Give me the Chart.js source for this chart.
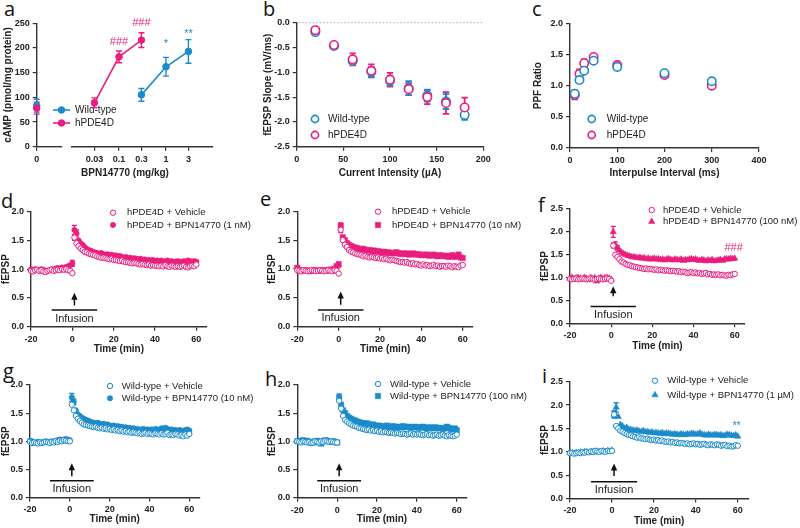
<!DOCTYPE html>
<html>
<head>
<meta charset="utf-8">
<title>BPN14770 - cAMP y fEPSP</title>
<script src="https://cdn.jsdelivr.net/npm/chart.js@4.4.1/dist/chart.umd.min.js"></script>
<style>
  body { margin: 0; width: 800px; height: 528px; background: #fff; position: relative; overflow: hidden; }
  canvas { position: absolute; }
  .lt { position: absolute; font: 20px/20px 'Open Sans', sans-serif; color: #111; }
</style>
</head>
<body>
<div class="lt" style="left:4px;top:-1px">a</div>
<div class="lt" style="left:263px;top:-1px">b</div>
<div class="lt" style="left:532px;top:-1px">c</div>
<div class="lt" style="left:1px;top:191px">d</div>
<div class="lt" style="left:260px;top:189px">e</div>
<div class="lt" style="left:538px;top:195px">f</div>
<div class="lt" style="left:3px;top:361px">g</div>
<div class="lt" style="left:265px;top:369px">h</div>
<div class="lt" style="left:542px;top:366px">i</div>
<script>
// js/figura_bpn.js

const BLUE = '#1b8bcb';
const PINK = '#e91e7e';
const INK = '#222';
const AXIS = '#333';

// --- 1. Datos ---

// a: cAMP vs dosis
const doseZero = [0];
const wtZeroCamp = [83];
const wtZeroSem = [13];
const hpZeroCamp = [78];
const hpZeroSem = [12];
const wtDoses = [0.3, 1, 3];
const wtCamp = [105, 162, 193];
const wtCampSem = [13, 19, 24];
const hpDoses = [0.03, 0.1, 0.3];
const hpCamp = [89, 182, 216];
const hpCampSem = [10, 12, 15];
const doseTicks = [0.03, 0.1, 0.3, 1, 3];
const campTicks = [0, 50, 100, 150, 200, 250];

// b: curva input/output
const currents = [20, 40, 60, 80, 100, 120, 140, 160, 180];
const wtSlope = [-0.19, -0.47, -0.77, -0.99, -1.17, -1.32, -1.47, -1.59, -1.86];
const wtSlopeSem = [0.03, 0.04, 0.05, 0.1, 0.1, 0.14, 0.12, 0.15, 0.1];
const hpSlope = [-0.15, -0.45, -0.74, -0.97, -1.15, -1.34, -1.5, -1.62, -1.71];
const hpSlopeSem = [0.03, 0.04, 0.12, 0.13, 0.14, 0.12, 0.14, 0.22, 0.2];
const currentTicks = [0, 50, 100, 150, 200];
const slopeTicks = [-2.5, -2, -1.5, -1, -0.5, 0];

// c: PPF
const intervals = [10, 20, 30, 50, 100, 200, 300];
const wtPpf = [0.87, 1.09, 1.24, 1.40, 1.30, 1.20, 1.07];
const wtPpfSem = [0.05, 0.03, 0.04, 0.03, 0.04, 0.03, 0.02];
const hpPpf = [0.85, 1.19, 1.36, 1.46, 1.33, 1.17, 1.00];
const hpPpfSem = [0.07, 0.07, 0.06, 0.05, 0.03, 0.03, 0.02];
const intervalTicks = [0, 100, 200, 300, 400];
const ppfTicks = [0, 0.5, 1, 1.5, 2];

// d-i: series de tiempo (min)
const minutes = [-20, -19, -18, -17, -16, -15, -14, -13, -12, -11, -10, -9, -8, -7, -6, -5, -4, -3, -2, -1, 0,
  1, 2, 3, 4, 5, 6, 7, 8, 9, 10, 11, 12, 13, 14, 15, 16, 17, 18, 19, 20,
  21, 22, 23, 24, 25, 26, 27, 28, 29, 30, 31, 32, 33, 34, 35, 36, 37, 38, 39, 40,
  41, 42, 43, 44, 45, 46, 47, 48, 49, 50, 51, 52, 53, 54, 55, 56, 57, 58, 59, 60];
const timeTicks = [-20, 0, 20, 40, 60];
const fepspTicks2 = [0, 0.5, 1, 1.5, 2];
const fepspTicks25 = [0, 0.5, 1, 1.5, 2, 2.5];

const dVehicle = [0.97, 0.96, 0.98, 0.99, 0.97, 0.98, 0.96, 0.95, 0.97, 0.98, 0.99, 0.97, 0.98, 0.99, 0.98, 1.00, 0.99, 1.00, 0.98, 0.97, 0.93,
  1.55, 1.45, 1.40, 1.36, 1.33, 1.30, 1.29, 1.27, 1.26, 1.25,
  1.24, 1.22, 1.21, 1.20, 1.20, 1.19, 1.18, 1.17, 1.18, 1.16,
  1.16, 1.15, 1.14, 1.15, 1.13, 1.12, 1.12, 1.11, 1.10, 1.11,
  1.10, 1.09, 1.08, 1.09, 1.08, 1.07, 1.08, 1.06, 1.07, 1.06,
  1.06, 1.05, 1.06, 1.05, 1.07, 1.05, 1.04, 1.06, 1.05, 1.04,
  1.05, 1.04, 1.05, 1.06, 1.04, 1.03, 1.05, 1.06, 1.05, 1.08];
const dDrug = [1.00, 0.97, 1.00, 0.99, 0.98, 1.00, 0.99, 0.95, 0.97, 0.98, 1.00, 0.99, 1.01, 1.02, 1.00, 1.03, 1.02, 1.04, 1.05, 1.07, 1.10,
  1.68, 1.62, 1.50, 1.45, 1.42, 1.38, 1.35, 1.33, 1.32, 1.30,
  1.29, 1.28, 1.27, 1.28, 1.26, 1.25, 1.26, 1.24, 1.25, 1.23,
  1.24, 1.22, 1.23, 1.21, 1.20, 1.21, 1.19, 1.20, 1.18, 1.19,
  1.18, 1.17, 1.18, 1.16, 1.17, 1.15, 1.16, 1.15, 1.16, 1.14,
  1.15, 1.14, 1.15, 1.13, 1.14, 1.15, 1.13, 1.14, 1.12, 1.13,
  1.14, 1.13, 1.12, 1.14, 1.13, 1.15, 1.14, 1.13, 1.14, 1.13];

const eVehicle = [0.98, 0.97, 0.96, 0.98, 0.97, 0.96, 0.97, 0.98, 0.97, 0.96, 0.97, 0.98, 0.97, 0.96, 0.97, 0.98, 0.97, 0.96, 0.98, 0.97, 0.92,
  1.68, 1.50, 1.42, 1.38, 1.33, 1.30, 1.29, 1.27, 1.26, 1.25,
  1.24, 1.22, 1.23, 1.21, 1.20, 1.21, 1.20, 1.19, 1.20, 1.18,
  1.19, 1.17, 1.18, 1.16, 1.15, 1.16, 1.15, 1.14, 1.13, 1.12,
  1.12, 1.11, 1.12, 1.10, 1.09, 1.10, 1.08, 1.09, 1.07, 1.06,
  1.08, 1.06, 1.07, 1.05, 1.06, 1.07, 1.05, 1.06, 1.04, 1.05,
  1.05, 1.04, 1.06, 1.05, 1.03, 1.05, 1.04, 1.03, 1.06, 1.07];
const eDrug = [1.02, 0.97, 0.98, 0.97, 0.98, 0.97, 0.96, 0.97, 0.98, 0.97, 0.97, 0.98, 0.97, 0.98, 0.97, 0.98, 0.99, 0.98, 1.00, 1.05, 1.08,
  1.75, 1.55, 1.50, 1.45, 1.42, 1.40, 1.38, 1.37, 1.36, 1.35,
  1.34, 1.35, 1.33, 1.32, 1.33, 1.31, 1.32, 1.30, 1.31, 1.30,
  1.29, 1.30, 1.28, 1.29, 1.28, 1.27, 1.28, 1.29, 1.27, 1.26,
  1.27, 1.26, 1.27, 1.25, 1.26, 1.27, 1.25, 1.26, 1.25, 1.24,
  1.25, 1.24, 1.25, 1.23, 1.24, 1.25, 1.23, 1.22, 1.24, 1.23,
  1.22, 1.23, 1.21, 1.22, 1.24, 1.21, 1.22, 1.25, 1.20, 1.19];

const fVehicle = [0.97, 0.96, 0.97, 0.98, 0.96, 0.97, 0.98, 0.97, 0.96, 0.97, 0.98, 0.97, 0.96, 0.97, 0.98, 0.97, 0.96, 0.97, 0.98, 0.97, 0.93,
  1.70, 1.50, 1.45, 1.40, 1.35, 1.33, 1.30, 1.28, 1.27, 1.25,
  1.24, 1.23, 1.22, 1.21, 1.20, 1.19, 1.20, 1.18, 1.19, 1.18,
  1.17, 1.18, 1.16, 1.17, 1.16, 1.15, 1.16, 1.15, 1.14, 1.15,
  1.14, 1.13, 1.14, 1.12, 1.13, 1.12, 1.10, 1.11, 1.12, 1.10,
  1.11, 1.09, 1.10, 1.08, 1.09, 1.10, 1.07, 1.08, 1.06, 1.07,
  1.06, 1.07, 1.05, 1.06, 1.05, 1.04, 1.06, 1.05, 1.07, 1.08];
const fDrug = [0.98, 1.00, 0.97, 0.99, 1.00, 0.98, 0.96, 1.00, 0.98, 0.95, 1.00, 0.97, 0.99, 0.92, 0.98, 1.00, 0.97, 0.99, 1.00, 0.98, 0.96,
  2.00, 1.72, 1.65, 1.60, 1.55, 1.52, 1.50, 1.48, 1.47, 1.45,
  1.45, 1.44, 1.43, 1.44, 1.42, 1.43, 1.41, 1.42, 1.40, 1.41,
  1.42, 1.40, 1.41, 1.39, 1.40, 1.38, 1.40, 1.41, 1.39, 1.38,
  1.40, 1.39, 1.38, 1.40, 1.37, 1.39, 1.38, 1.40, 1.41, 1.39,
  1.40, 1.38, 1.37, 1.39, 1.38, 1.36, 1.38, 1.37, 1.39, 1.36,
  1.37, 1.38, 1.39, 1.37, 1.40, 1.41, 1.40, 1.42, 1.41, 1.42];

const gVehicle = [0.99, 0.97, 0.98, 0.97, 0.96, 0.98, 0.97, 0.98, 0.99, 0.98, 0.97, 0.99, 0.98, 1.00, 0.99, 1.01, 1.00, 1.02, 1.01, 1.00, 1.00,
  1.65, 1.55, 1.45, 1.40, 1.36, 1.33, 1.30, 1.29, 1.28, 1.27,
  1.26, 1.25, 1.26, 1.24, 1.23, 1.24, 1.22, 1.23, 1.21, 1.22,
  1.20, 1.21, 1.19, 1.20, 1.18, 1.19, 1.17, 1.18, 1.16, 1.17,
  1.15, 1.16, 1.15, 1.14, 1.15, 1.13, 1.14, 1.15, 1.13, 1.14,
  1.13, 1.12, 1.14, 1.13, 1.12, 1.14, 1.12, 1.13, 1.15, 1.11,
  1.12, 1.11, 1.13, 1.12, 1.10, 1.11, 1.09, 1.12, 1.10, 1.13];
const gDrug = [1.01, 1.00, 0.98, 0.97, 0.99, 0.98, 0.97, 0.99, 1.00, 0.99, 0.98, 1.00, 0.99, 1.01, 1.02, 1.03, 1.02, 1.03, 1.04, 1.03, 1.02,
  1.78, 1.70, 1.55, 1.48, 1.45, 1.42, 1.40, 1.38, 1.37, 1.35,
  1.34, 1.33, 1.32, 1.33, 1.31, 1.30, 1.31, 1.29, 1.30, 1.28,
  1.27, 1.28, 1.26, 1.27, 1.25, 1.26, 1.24, 1.25, 1.23, 1.24,
  1.22, 1.23, 1.21, 1.22, 1.20, 1.21, 1.22, 1.20, 1.21, 1.20,
  1.21, 1.20, 1.22, 1.21, 1.20, 1.23, 1.22, 1.24, 1.22, 1.20,
  1.21, 1.19, 1.20, 1.18, 1.20, 1.19, 1.18, 1.20, 1.21, 1.19];

const hVehicle = [1.00, 0.99, 0.98, 1.00, 0.99, 0.98, 0.99, 0.97, 0.98, 1.00, 0.99, 0.98, 1.00, 0.99, 1.01, 1.00, 0.99, 1.00, 0.99, 0.98, 0.98,
  1.72, 1.58, 1.45, 1.38, 1.35, 1.32, 1.30, 1.28, 1.27, 1.26,
  1.24, 1.23, 1.22, 1.21, 1.20, 1.21, 1.19, 1.20, 1.18, 1.19,
  1.17, 1.18, 1.16, 1.17, 1.16, 1.15, 1.16, 1.15, 1.14, 1.15,
  1.14, 1.13, 1.14, 1.13, 1.12, 1.13, 1.14, 1.12, 1.13, 1.12,
  1.13, 1.12, 1.11, 1.12, 1.13, 1.11, 1.12, 1.10, 1.11, 1.12,
  1.10, 1.11, 1.12, 1.10, 1.09, 1.11, 1.10, 1.09, 1.10, 1.12];
const hDrug = [1.00, 1.01, 0.99, 1.02, 1.00, 1.01, 0.99, 0.97, 0.98, 1.00, 1.01, 0.98, 0.96, 1.00, 1.02, 1.01, 1.00, 0.99, 1.00, 0.99, 0.98,
  1.78, 1.65, 1.55, 1.50, 1.45, 1.42, 1.40, 1.38, 1.37, 1.35,
  1.34, 1.33, 1.32, 1.31, 1.32, 1.30, 1.29, 1.30, 1.28, 1.27,
  1.28, 1.27, 1.26, 1.27, 1.28, 1.26, 1.25, 1.27, 1.26, 1.25,
  1.26, 1.25, 1.27, 1.26, 1.25, 1.26, 1.24, 1.25, 1.26, 1.25,
  1.24, 1.25, 1.26, 1.24, 1.23, 1.25, 1.24, 1.23, 1.25, 1.24,
  1.23, 1.24, 1.22, 1.23, 1.26, 1.24, 1.22, 1.21, 1.23, 1.20];

const iVehicle = [0.97, 0.98, 0.96, 0.97, 0.98, 0.97, 0.99, 0.98, 1.00, 0.99, 1.01, 1.00, 1.02, 1.01, 1.00, 1.02, 1.01, 1.00, 1.02, 1.01, 1.02,
  1.80, 1.55, 1.50, 1.45, 1.43, 1.40, 1.38, 1.36, 1.35, 1.33,
  1.32, 1.30, 1.31, 1.29, 1.28, 1.27, 1.28, 1.26, 1.25, 1.26,
  1.24, 1.25, 1.23, 1.24, 1.22, 1.21, 1.22, 1.20, 1.21, 1.19,
  1.20, 1.18, 1.19, 1.18, 1.17, 1.18, 1.16, 1.17, 1.18, 1.16,
  1.17, 1.15, 1.16, 1.17, 1.15, 1.14, 1.16, 1.15, 1.14, 1.16,
  1.15, 1.13, 1.14, 1.15, 1.12, 1.13, 1.11, 1.12, 1.14, 1.13];
const iDrug = [0.98, 0.97, 0.96, 0.98, 0.97, 0.99, 0.98, 1.00, 0.99, 0.98, 1.00, 0.99, 1.00, 1.01, 0.99, 1.00, 1.01, 1.00, 1.02, 1.01, 1.03,
  1.80, 1.95, 1.75, 1.58, 1.55, 1.50, 1.52, 1.48, 1.47, 1.46,
  1.45, 1.46, 1.44, 1.43, 1.45, 1.42, 1.43, 1.41, 1.42, 1.40,
  1.41, 1.40, 1.39, 1.41, 1.38, 1.40, 1.39, 1.38, 1.37, 1.38,
  1.37, 1.36, 1.38, 1.37, 1.36, 1.38, 1.37, 1.39, 1.38, 1.37,
  1.38, 1.40, 1.37, 1.36, 1.35, 1.37, 1.36, 1.35, 1.37, 1.36,
  1.35, 1.36, 1.34, 1.35, 1.37, 1.36, 1.35, 1.34, 1.36, 1.33];

// SEM visibles solo en el pico post-infusion (min -> sem)
const dDrugSem = { 0: 0.05, 1: 0.08, 2: 0.06 };
const dVehSem = { 1: 0.05 };
const eDrugSem = { 1: 0.05, 0: 0.04 };
const eVehSem = { 1: 0.05 };
const fDrugSem = { 1: 0.12, 2: 0.06, 3: 0.05 };
const fVehSem = { 1: 0.05 };
const gDrugSem = { 1: 0.07, 2: 0.05 };
const gVehSem = {};
const hDrugSem = { 1: 0.06 };
const hVehSem = {};
const iDrugSem = { 1: 0.08, 2: 0.1 };
const iVehSem = { 1: 0.06 };

// --- 2. Plugin: barras de error, leyendas, textos y flecha de infusion ---
Chart.defaults.font.family = "'Liberation Sans', Arial, sans-serif";
Chart.defaults.color = INK;

const decoMap = {};

function marker(ctx, style, r, x, y, color, open, lw) {
  ctx.save();
  ctx.strokeStyle = color;
  ctx.fillStyle = open ? '#fff' : color;
  ctx.lineWidth = lw;
  Chart.helpers.drawPoint(ctx, { pointStyle: style, radius: r, borderWidth: lw, rotation: 0 }, x, y);
  ctx.restore();
}

const decoPlugin = {
  id: 'deco',
  beforeDatasetsDraw(chart) {
    const ctx = chart.ctx;
    const ys = chart.scales.y;
    chart.data.datasets.forEach((ds, i) => {
      if (!ds.err && !ds.semAt) return;
      const meta = chart.getDatasetMeta(i);
      ctx.save();
      ctx.strokeStyle = ds.pointBorderColor;
      ctx.lineWidth = ds.errWidth || 1.4;
      const c = ds.cap || 3;
      meta.data.forEach((el, j) => {
        const p = ds.data[j];
        const e = ds.err ? ds.err[j] : ds.semAt[p.x];
        if (!e) return;
        const y1 = ys.getPixelForValue(p.y + e);
        const y2 = ys.getPixelForValue(p.y - e);
        ctx.beginPath();
        ctx.moveTo(el.x, y1); ctx.lineTo(el.x, y2);
        ctx.moveTo(el.x - c, y1); ctx.lineTo(el.x + c, y1);
        ctx.moveTo(el.x - c, y2); ctx.lineTo(el.x + c, y2);
        ctx.stroke();
      });
      ctx.restore();
    });
  },
  afterDraw(chart) {
    const d = decoMap[chart.canvas.id];
    if (!d) return;
    const ctx = chart.ctx;
    const ox = d.box.x, oy = d.box.y;
    const xs = chart.scales.x, ys = chart.scales.y;
    ctx.save();

    // linea punteada de referencia
    if (d.refLine) {
      const yy = ys.getPixelForValue(d.refLine.y);
      ctx.strokeStyle = '#aaa';
      ctx.lineWidth = 1;
      ctx.setLineDash([1.5, 2]);
      ctx.beginPath();
      ctx.moveTo(chart.chartArea.left + 2, yy);
      ctx.lineTo(chart.chartArea.right, yy);
      ctx.stroke();
      ctx.setLineDash([]);
    }

    // leyenda
    if (d.legend) {
      const L = d.legend;
      L.items.forEach(it => {
        const mx = L.mx - ox, my = it.y - oy;
        if (it.line) {
          ctx.strokeStyle = it.color; ctx.lineWidth = 1.6;
          ctx.beginPath(); ctx.moveTo(mx - 8.5, my); ctx.lineTo(mx + 8.5, my); ctx.stroke();
        }
        marker(ctx, it.style, it.r, mx, my, it.color, it.open, it.lw);
        ctx.fillStyle = INK;
        ctx.font = L.font;
        ctx.textAlign = 'left';
        ctx.textBaseline = 'middle';
        ctx.fillText(it.text, L.tx - ox, my);
      });
    }

    // textos en pixeles
    (d.texts || []).forEach(t => {
      ctx.fillStyle = t.color || INK;
      ctx.font = t.font;
      ctx.textAlign = 'center';
      ctx.textBaseline = 'middle';
      ctx.fillText(t.text, t.x - ox, t.y - oy);
    });

    // marcas de significancia (coordenadas de datos)
    (d.marks || []).forEach(m => {
      ctx.fillStyle = m.color;
      ctx.font = m.font || '11px "Liberation Sans", Arial';
      ctx.textAlign = 'center';
      ctx.textBaseline = 'middle';
      ctx.fillText(m.text, xs.getPixelForValue(m.x), ys.getPixelForValue(m.y));
    });

    // flecha + barra de infusion
    if (d.infusion) {
      const f = d.infusion;
      const X = xs.getPixelForValue(f.x);
      const yb = ys.getPixelForValue(f.bar);
      const yt = ys.getPixelForValue(f.tip);
      const y0 = ys.getPixelForValue(f.base);
      const x1 = xs.getPixelForValue(f.from), x2 = xs.getPixelForValue(f.to);
      ctx.strokeStyle = '#111';
      ctx.fillStyle = '#111';
      ctx.lineWidth = 1.5;
      ctx.beginPath(); ctx.moveTo(x1, yb); ctx.lineTo(x2, yb); ctx.stroke();
      ctx.beginPath(); ctx.moveTo(X, y0); ctx.lineTo(X, yt + 5); ctx.stroke();
      ctx.beginPath(); ctx.moveTo(X, yt); ctx.lineTo(X - 3.2, yt + 7); ctx.lineTo(X + 3.2, yt + 7); ctx.closePath(); ctx.fill();
      ctx.fillStyle = INK;
      ctx.font = '11px "Liberation Sans", Arial';
      ctx.textAlign = 'center';
      ctx.textBaseline = 'middle';
      ctx.fillText('Infusion', (x1 + x2) / 2, yb + 8.5);
    }
    ctx.restore();
  }
};

// --- 3. Ejes ---
function makeScale(s, axis, size) {
  return {
    type: s.type || 'linear',
    min: s.min,
    max: s.max,
    afterBuildTicks: sc => { sc.ticks = s.ticks.map(v => ({ value: v })); },
    afterFit: sc => { if (axis === 'x') sc.height = size; else sc.width = size; },
    ticks: {
      font: { size: 9, weight: 'bold' }, color: INK, padding: 3,
      autoSkip: false, maxRotation: 0, minRotation: 0, callback: s.fmt
    },
    grid: { drawOnChartArea: false, drawTicks: true, tickLength: 4, color: AXIS, lineWidth: 1.2 },
    border: { display: true, color: AXIS, width: 1.4 },
    title: s.title
      ? { display: true, text: s.title, font: { size: 10, weight: 'bold' }, color: INK, padding: 0 }
      : { display: false }
  };
}

const intFmt = v => String(v);
const decFmt = v => Number(v).toFixed(1);

function buildPanel(spec) {
  const { id, box, area } = spec;
  const cv = document.createElement('canvas');
  cv.id = id;
  cv.width = box.w; cv.height = box.h;
  cv.style.left = box.x + 'px'; cv.style.top = box.y + 'px';
  cv.style.width = box.w + 'px'; cv.style.height = box.h + 'px';
  document.body.appendChild(cv);
  decoMap[id] = Object.assign({ box }, spec.deco || {});

  const yW = area.l - box.x;
  const xH = box.y + box.h - area.b;
  const yScale = spec.yHidden
    ? { type: 'linear', display: false, min: spec.y.min, max: spec.y.max }
    : makeScale(spec.y, 'y', yW);

  new Chart(cv, {
    type: 'scatter',
    data: { datasets: spec.datasets },
    options: {
      responsive: false,
      animation: false,
      events: [],
      layout: {
        autoPadding: false,
        padding: { left: spec.yHidden ? yW : 0, top: area.t - box.y, right: box.x + box.w - area.r, bottom: 0 }
      },
      plugins: { legend: { display: false }, tooltip: { enabled: false } },
      scales: { x: makeScale(spec.x, 'x', xH), y: yScale }
    },
    plugins: [decoPlugin]
  });
}

// --- 4. Datasets ---
function pts(xs, ys) { return xs.map((x, i) => ({ x: x, y: ys[i] })); }

function doseSet(xs, ys, sem, color, line) {
  return {
    data: pts(xs, ys), err: sem, showLine: line, borderColor: color, borderWidth: 1.6,
    pointStyle: 'circle', pointRadius: 3.3, pointBackgroundColor: color, pointBorderColor: color,
    pointBorderWidth: 1, clip: false, cap: 3
  };
}

function openSet(xs, ys, sem, color) {
  return {
    data: pts(xs, ys), err: sem, showLine: false,
    pointStyle: 'circle', pointRadius: 4.2, pointBackgroundColor: '#fff', pointBorderColor: color,
    pointBorderWidth: 1.6, clip: false, errWidth: 1.8, cap: 3.2
  };
}

function timeSet(vals, semAt, color, style, open) {
  const r = style === 'circle' ? 2.7 : (style === 'rect' ? 3.8 : 3.7);
  return {
    data: pts(minutes, vals), semAt: semAt, showLine: false,
    pointStyle: style, pointRadius: r, pointBackgroundColor: open ? '#fff' : color, pointBorderColor: color,
    pointBorderWidth: open ? 1 : 0.5, clip: false, errWidth: 1.4, cap: 2.5
  };
}

const TIME_X = { min: -20, max: 65, ticks: timeTicks, fmt: intFmt, title: 'Time (min)' };
const LEG_FONT_TS = '9.5px "Liberation Sans", Arial';
const LEG_FONT = '10px "Liberation Sans", Arial';

function tsLegend(mx, tx, y1, y2, color, style, r, t1, t2) {
  return {
    mx: mx, tx: tx, font: LEG_FONT_TS,
    items: [
      { text: t1, y: y1, style: 'circle', r: 2.7, color: color, open: true, lw: 1 },
      { text: t2, y: y2, style: style, r: r, color: color, open: false, lw: 0.5 }
    ]
  };
}

// --- 5. Paneles ---

// a (segmento "0")
buildPanel({
  id: 'a0', box: { x: 2, y: 0, w: 263, h: 179 }, area: { l: 36.7, t: 23.3, r: 62, b: 146.7 },
  x: { min: 0, max: 1, ticks: doseZero, fmt: intFmt },
  y: { min: 0, max: 250, ticks: campTicks, fmt: intFmt, title: 'cAMP (pmol/mg protein)' },
  datasets: [
    doseSet(doseZero, hpZeroCamp, hpZeroSem, PINK, false),
    doseSet(doseZero, wtZeroCamp, wtZeroSem, BLUE, false)
  ],
  deco: {
    legend: {
      mx: 61.5, tx: 75, font: LEG_FONT,
      items: [
        { text: 'Wild-type', y: 110, style: 'circle', r: 3.3, color: BLUE, open: false, lw: 1, line: true },
        { text: 'hPDE4D', y: 123, style: 'circle', r: 3.3, color: PINK, open: false, lw: 1, line: true }
      ]
    },
    texts: [{ text: 'BPN14770 (mg/kg)', x: 125, y: 173, font: 'bold 10px "Liberation Sans", Arial' }]
  }
});

// a (escala log)
buildPanel({
  id: 'a1', box: { x: 62, y: 0, w: 203, h: 179 }, area: { l: 72, t: 23.3, r: 213, b: 146.7 },
  yHidden: true,
  x: { type: 'logarithmic', min: 0.01, max: 10, ticks: doseTicks, fmt: intFmt },
  y: { min: 0, max: 250 },
  datasets: [
    doseSet(hpDoses, hpCamp, hpCampSem, PINK, true),
    doseSet(wtDoses, wtCamp, wtCampSem, BLUE, true)
  ],
  deco: {
    marks: [
      { text: '###', x: 0.1, y: 212, color: PINK },
      { text: '###', x: 0.3, y: 250, color: PINK },
      { text: '*', x: 1, y: 208, color: BLUE },
      { text: '**', x: 3, y: 229, color: BLUE }
    ]
  }
});

// b
buildPanel({
  id: 'b', box: { x: 262, y: 0, w: 268, h: 179 }, area: { l: 296.7, t: 22.7, r: 483.3, b: 146.7 },
  x: { min: 0, max: 200, ticks: currentTicks, fmt: intFmt, title: 'Current Intensity (\u00b5A)' },
  y: { min: -2.5, max: 0, ticks: slopeTicks, fmt: decFmt, title: 'fEPSP Slope (mV/ms)' },
  datasets: [
    openSet(currents, hpSlope, hpSlopeSem, PINK),
    openSet(currents, wtSlope, wtSlopeSem, BLUE)
  ],
  deco: {
    refLine: { y: 0 },
    legend: {
      mx: 315, tx: 328, font: LEG_FONT,
      items: [
        { text: 'Wild-type', y: 119, style: 'circle', r: 3.6, color: BLUE, open: true, lw: 1.6 },
        { text: 'hPDE4D', y: 135, style: 'circle', r: 3.6, color: PINK, open: true, lw: 1.6 }
      ]
    }
  }
});

// c
buildPanel({
  id: 'c', box: { x: 532, y: 0, w: 268, h: 179 }, area: { l: 570, t: 23.3, r: 759, b: 148 },
  x: { min: 0, max: 400, ticks: intervalTicks, fmt: intFmt, title: 'Interpulse Interval (ms)' },
  y: { min: 0, max: 2, ticks: ppfTicks, fmt: decFmt, title: 'PPF Ratio' },
  datasets: [
    openSet(intervals, wtPpf, wtPpfSem, BLUE),
    openSet(intervals, hpPpf, hpPpfSem, PINK)
  ],
  deco: {
    legend: {
      mx: 591.7, tx: 606.7, font: LEG_FONT,
      items: [
        { text: 'Wild-type', y: 119, style: 'circle', r: 3.6, color: BLUE, open: true, lw: 1.6 },
        { text: 'hPDE4D', y: 135, style: 'circle', r: 3.6, color: PINK, open: true, lw: 1.6 }
      ]
    }
  }
});

// d
buildPanel({
  id: 'd', box: { x: 0, y: 185, w: 262, h: 170 }, area: { l: 31, t: 211.6, r: 206.7, b: 326.7 },
  x: TIME_X,
  y: { min: 0, max: 2, ticks: fepspTicks2, fmt: decFmt, title: 'fEPSP' },
  datasets: [timeSet(dVehicle, dVehSem, PINK, 'circle', true), timeSet(dDrug, dDrugSem, PINK, 'circle', false)],
  deco: {
    legend: tsLegend(113, 127, 212.7, 225, PINK, 'circle', 2.7, 'hPDE4D + Vehicle', 'hPDE4D + BPN14770 (1 nM)'),
    infusion: { x: 1, from: -10, to: 12, bar: 0.29, tip: 0.59, base: 0.37 }
  }
});

// e
buildPanel({
  id: 'e', box: { x: 266, y: 185, w: 266, h: 170 }, area: { l: 297.3, t: 211.3, r: 473, b: 326.7 },
  x: TIME_X,
  y: { min: 0, max: 2, ticks: fepspTicks2, fmt: decFmt, title: 'fEPSP' },
  datasets: [timeSet(eVehicle, eVehSem, PINK, 'circle', true), timeSet(eDrug, eDrugSem, PINK, 'rect', false)],
  deco: {
    legend: tsLegend(378, 392, 211.7, 225, PINK, 'rect', 3.8, 'hPDE4D + Vehicle', 'hPDE4D + BPN14770 (10 nM)'),
    infusion: { x: 1, from: -10, to: 12, bar: 0.29, tip: 0.61, base: 0.38 }
  }
});

// f
buildPanel({
  id: 'f', box: { x: 539, y: 185, w: 261, h: 167 }, area: { l: 570, t: 209, r: 745, b: 323.3 },
  x: TIME_X,
  y: { min: 0, max: 2.5, ticks: fepspTicks25, fmt: decFmt, title: 'fEPSP' },
  datasets: [timeSet(fVehicle, fVehSem, PINK, 'circle', true), timeSet(fDrug, fDrugSem, PINK, 'triangle', false)],
  deco: {
    legend: tsLegend(651.7, 663, 210, 221.7, PINK, 'triangle', 3.7, 'hPDE4D + Vehicle', 'hPDE4D + BPN14770 (100 nM)'),
    infusion: { x: 1, from: -10, to: 12, bar: 0.37, tip: 0.81, base: 0.59 },
    marks: [{ text: '###', x: 59.5, y: 1.65, color: PINK }]
  }
});

// g
buildPanel({
  id: 'g', box: { x: 0, y: 355, w: 262, h: 170 }, area: { l: 30, t: 385, r: 199.3, b: 497.5 },
  x: TIME_X,
  y: { min: 0, max: 2, ticks: fepspTicks2, fmt: decFmt, title: 'fEPSP' },
  datasets: [timeSet(gVehicle, gVehSem, BLUE, 'circle', true), timeSet(gDrug, gDrugSem, BLUE, 'circle', false)],
  deco: {
    legend: tsLegend(110, 121.7, 386, 398.3, BLUE, 'circle', 2.7, 'Wild-type + Vehicle', 'Wild-type + BPN14770 (10 nM)'),
    infusion: { x: 1, from: -10, to: 12, bar: 0.3, tip: 0.61, base: 0.38 }
  }
});

// h
buildPanel({
  id: 'h', box: { x: 266, y: 355, w: 266, h: 170 }, area: { l: 297.3, t: 385, r: 466.7, b: 497.7 },
  x: TIME_X,
  y: { min: 0, max: 2, ticks: fepspTicks2, fmt: decFmt, title: 'fEPSP' },
  datasets: [timeSet(hVehicle, hVehSem, BLUE, 'circle', true), timeSet(hDrug, hDrugSem, BLUE, 'rect', false)],
  deco: {
    legend: tsLegend(378, 390, 384, 396, BLUE, 'rect', 3.8, 'Wild-type + Vehicle', 'Wild-type + BPN14770 (100 nM)'),
    infusion: { x: 1, from: -10, to: 12, bar: 0.3, tip: 0.61, base: 0.38 }
  }
});

// i
buildPanel({
  id: 'i', box: { x: 539, y: 355, w: 261, h: 172 }, area: { l: 570, t: 381.7, r: 748.3, b: 498.5 },
  x: TIME_X,
  y: { min: 0, max: 2.5, ticks: fepspTicks25, fmt: decFmt, title: 'fEPSP' },
  datasets: [timeSet(iVehicle, iVehSem, BLUE, 'circle', true), timeSet(iDrug, iDrugSem, BLUE, 'triangle', false)],
  deco: {
    legend: tsLegend(655, 667.3, 380.7, 395, BLUE, 'triangle', 3.7, 'Wild-type + Vehicle', 'Wild-type + BPN14770 (1 \u00b5M)'),
    infusion: { x: 1, from: -10, to: 12, bar: 0.36, tip: 0.75, base: 0.48 },
    marks: [{ text: '**', x: 59.5, y: 1.54, color: BLUE, font: '10px "Liberation Sans", Arial' }]
  }
});
</script>
</body>
</html>
